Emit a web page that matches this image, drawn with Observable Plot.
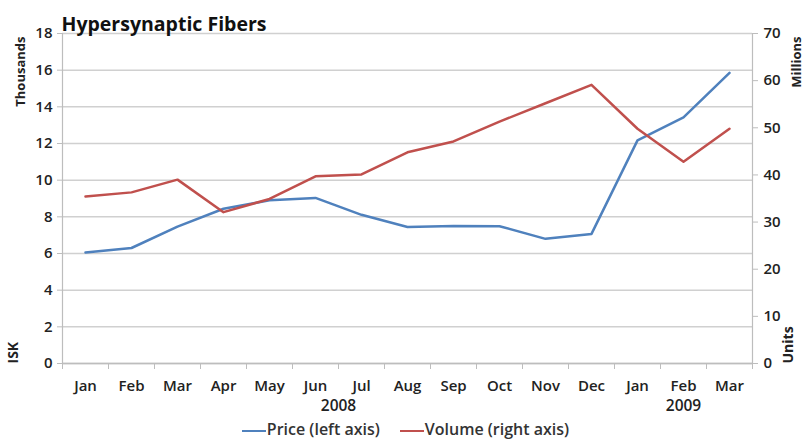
<!DOCTYPE html>
<html><head><meta charset="utf-8">
<script src="https://cdn.jsdelivr.net/npm/d3@7"></script>
<script src="https://cdn.jsdelivr.net/npm/@observablehq/plot@0.6"></script>
<style>
body{margin:0;background:#fff;font-family:"Open Sans",sans-serif;}
#legend{display:flex;justify-content:center;gap:20px;font-size:16px;font-weight:600;color:#333;height:26px;align-items:center;padding-left:6px;margin-top:1px}
#legend span.sw{display:inline-block;width:24px;height:0;border-top:2.5px solid;vertical-align:middle;margin-right:1px}
</style></head>
<body>
<div id="chart"></div>
<div id="legend"></div>
<script>
const months = ["Jan","Feb","Mar","Apr","May","Jun","Jul","Aug","Sep","Oct","Nov","Dec","Jan","Feb","Mar"];
const price = [6.05,6.3,7.47,8.44,8.9,9.03,8.11,7.45,7.5,7.49,6.8,7.07,12.17,13.42,15.85];
const volume = [35.4,36.3,39.0,32.1,34.9,39.7,40.1,44.8,47.1,51.3,55.2,59.1,49.8,42.8,49.8];
const years = [{pos:5.5,label:"2008"},{pos:13,label:"2009"}];
const leftTicks = d3.range(0,19,2);
const rightTicks = d3.range(0,71,10);
const seriesNames = ["Price (left axis)","Volume (right axis)"];
const colors = ["#4f81bd","#c0504d"];

const k = 18/70;
const rows = months.map((m,i)=>({i, m, price:price[i], vol:volume[i]*k}));
const gray = "#bdbdbd";
const font = "Open Sans";

const plot = Plot.plot({
  width: 805, height: 415,
  marginTop: 33, marginBottom: 52, marginLeft: 62, marginRight: 53,
  style: {fontFamily: font, fontSize: "14px", fontWeight: 600, color: "#222", background: "#fff"},
  x: {type:"linear", domain:[-0.5,14.5]},
  y: {domain:[0,18]},
  marks: [
    Plot.gridY(leftTicks, {stroke:"#d0d0d0", strokeOpacity:1, strokeWidth:1.5}),
    Plot.axisY(leftTicks, {anchor:"left", tickSize:5, tickPadding:5, stroke:gray, label:null, fontSize:15}),
    Plot.axisY(rightTicks.map(v=>v*k), {anchor:"right", tickSize:5, tickPadding:6, stroke:gray, label:null, tickFormat:d=>String(Math.round(d/k)), fontSize:15}),
    Plot.ruleX([-0.5, 14.5], {stroke:gray, strokeWidth:1.2}),
    Plot.ruleY([0], {stroke:gray, strokeWidth:1.5}),
    Plot.axisX(d3.range(-0.5,15,1), {tickSize:6, stroke:gray, tickFormat:()=>"", label:null}),
    Plot.axisX(d3.range(0,15), {tickSize:0, tickPadding:17, label:null, tickFormat:i=>months[i], fontSize:15}),
    Plot.text(years, {x:"pos", text:"label", frameAnchor:"bottom", dy:47, fontSize:15.5, fill:"#222"}),
    Plot.line(rows, {x:"i", y:"price", stroke:colors[0], strokeWidth:2.5}),
    Plot.line(rows, {x:"i", y:"vol", stroke:colors[1], strokeWidth:2.5}),
    Plot.text(["Hypersynaptic Fibers"], {frameAnchor:"top-left", textAnchor:"start", dy:-16, dx:-1, fontSize:19.5, fontWeight:"bold", fill:"#111"}),
    Plot.text(["Thousands"], {frameAnchor:"top-left", rotate:-90, textAnchor:"end", dx:-47, dy:3, fontSize:13, fontWeight:"bold", fill:"#222"}),
    Plot.text(["ISK"], {frameAnchor:"bottom-left", rotate:-90, textAnchor:"start", dx:-45, fontSize:14, fontWeight:"bold", fill:"#222"}),
    Plot.text(["Millions"], {frameAnchor:"top-right", rotate:-90, textAnchor:"end", dx:39, dy:3, fontSize:13, fontWeight:"bold", fill:"#222"}),
    Plot.text(["Units"], {frameAnchor:"bottom-right", rotate:-90, textAnchor:"start", dx:40, fontSize:14, fontWeight:"bold", fill:"#222"})
  ]
});
document.getElementById("chart").appendChild(plot);
const lg = document.getElementById("legend");
seriesNames.forEach((n,j)=>{
  const s = document.createElement("span");
  s.innerHTML = `<span class="sw" style="border-color:${colors[j]}"></span>${n}`;
  lg.appendChild(s);
});
</script>
</body></html>
